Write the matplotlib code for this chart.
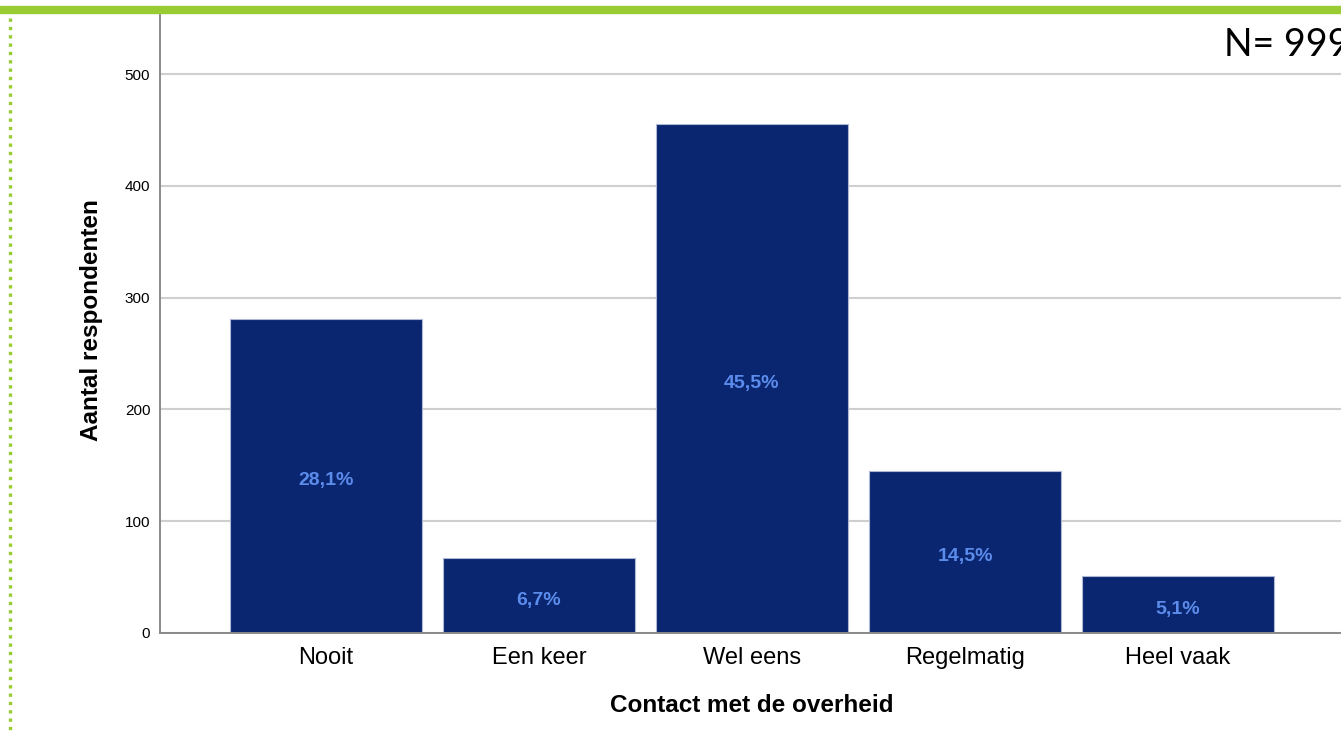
import matplotlib
matplotlib.use("Agg")
import matplotlib.pyplot as plt
from matplotlib.lines import Line2D
from matplotlib.patches import Rectangle

categories = ['Nooit', 'Een keer', 'Wel eens', 'Regelmatig', 'Heel vaak']
counts = [281, 67, 455, 145, 51]
percents = ['28,1%', '6,7%', '45,5%', '14,5%', '5,1%']
n_total = 999

W, H = 1341, 734
fig = plt.figure(figsize=(W / 100, H / 100), dpi=100)
fig.patch.set_facecolor('white')

# plot area in pixel terms of the reference
ax = fig.add_axes([160 / W, 1 - 633 / H, 1 - 160 / W, (633 - 13) / H])
ax.set_axisbelow(True)

x = range(len(categories))
ax.bar(x, counts, width=0.9, color='#0B2670', edgecolor='#AEB8D6', linewidth=0.8, zorder=2)
for i, (c, p) in enumerate(zip(counts, percents)):
    ax.annotate(p, (i, c / 2), xytext=(0, -3.5), textcoords='offset points',
                ha='center', va='center', color='#5B8CEB', fontsize=14,
                fontweight='bold', family='Liberation Sans', zorder=3)

ax.set_xlim(-0.779, 4.765)
ax.set_ylim(0, 554.6)
ax.set_yticks([0, 100, 200, 300, 400, 500])
ax.set_xticks(list(x))
ax.set_xticklabels(categories, fontsize=17, family='Liberation Sans')
for lab in ax.get_yticklabels():
    lab.set_family('Liberation Sans')
    lab.set_fontsize(11)
ax.tick_params(axis='both', length=0)
ax.tick_params(axis='y', pad=7)
ax.tick_params(axis='x', pad=10)
ax.yaxis.grid(True, color='#CFCFCF', linewidth=1.5)

for s in ['top', 'right']:
    ax.spines[s].set_visible(False)
for s in ['left', 'bottom']:
    ax.spines[s].set_color('#8A8A8A')
    ax.spines[s].set_linewidth(1.4)

ax.set_xlabel('Contact met de overheid', fontsize=17.5, fontweight='bold',
              family='Liberation Sans', va='center')
ax.xaxis.set_label_coords(0.501, -0.1177)
ax.set_ylabel('Aantal respondenten', fontsize=17.5, fontweight='bold',
              family='Liberation Sans', va='center')
ax.yaxis.set_label_coords(-0.0576, 0.505)

# frame decorations
fig.add_artist(Rectangle((0, 1 - 13 / H), 1, 7 / H, transform=fig.transFigure,
                         color='#99CC33', zorder=5))
fig.add_artist(Line2D([9.5 / W, 9.5 / W], [1 - 18 / H, 0], transform=fig.transFigure,
                      color='#99CC33', linewidth=2.4, dashes=(1, 1.5)))

fig.text(1224 / W, 1 - 56 / H, 'N= {}'.format(n_total), fontsize=27, family='Lato',
         ha='left', va='baseline', color='black')

fig.savefig('out.png', dpi=100)
